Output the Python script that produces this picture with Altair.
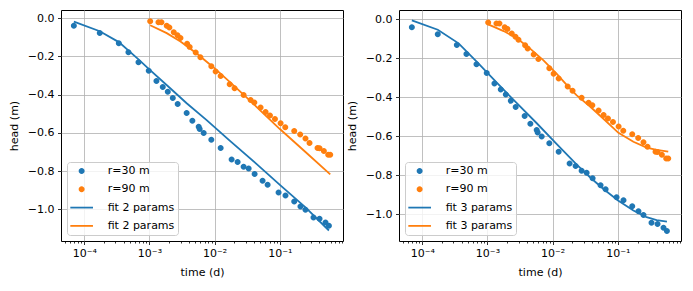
import altair as alt
import pandas as pd

BLUE = "#1f77b4"
ORANGE = "#ff7f0e"
FONT = "DejaVu Sans"

# observed drawdown, r = 30 m
t_r30 = [6.93e-5, 1.73e-4, 3.39e-4, 4.76e-4, 6.79e-4, 9.75e-4, 1.28e-3, 1.60e-3, 1.91e-3,
         2.28e-3, 2.71e-3, 3.72e-3, 4.55e-3, 5.69e-3, 5.89e-3, 6.79e-3, 8.89e-3, 1.236e-2,
         1.82e-2, 2.25e-2, 2.78e-2, 3.32e-2, 4.10e-2, 5.43e-2, 6.49e-2, 9.55e-2, 0.122,
         0.166, 0.207, 0.247, 0.328, 0.406, 0.501, 0.565]
h_r30 = [-0.040, -0.077, -0.131, -0.178, -0.230, -0.275, -0.329, -0.360, -0.385, -0.418,
         -0.449, -0.496, -0.536, -0.568, -0.580, -0.601, -0.636, -0.679, -0.740, -0.752,
         -0.777, -0.787, -0.815, -0.851, -0.872, -0.912, -0.928, -0.959, -0.985, -1.003,
         -1.043, -1.050, -1.069, -1.086]

# observed drawdown, r = 90 m
t_r90 = [1.026e-3, 1.374e-3, 1.528e-3, 1.84e-3, 2.02e-3, 2.36e-3, 2.69e-3, 2.99e-3, 3.78e-3,
         4.14e-3, 5.12e-3, 6.04e-3, 8.89e-3, 1.035e-2, 1.236e-2, 1.70e-2, 2.02e-2, 2.78e-2,
         3.56e-2, 4.06e-2, 5.06e-2, 6.04e-2, 7.05e-2, 8.41e-2, 0.1026, 0.121, 0.166, 0.205,
         0.247, 0.285, 0.378, 0.406, 0.473, 0.551, 0.592]
h_r90 = [-0.016, -0.021, -0.021, -0.040, -0.049, -0.073, -0.089, -0.104, -0.133, -0.150,
         -0.180, -0.204, -0.251, -0.279, -0.303, -0.345, -0.366, -0.402, -0.428, -0.441,
         -0.467, -0.491, -0.509, -0.527, -0.550, -0.571, -0.590, -0.609, -0.630, -0.653,
         -0.679, -0.681, -0.695, -0.714, -0.714]

# fit with 2 parameters
fit2_t30 = [6.93e-5, 1.73e-4, 3.39e-4, 6.79e-4, 9.75e-4, 2.10e-3, 3.72e-3, 7.46e-3, 1.70e-2,
            4.37e-2, 0.1, 0.247, 0.565]
fit2_h30 = [-0.018, -0.068, -0.125, -0.215, -0.265, -0.368, -0.445, -0.532, -0.641,
            -0.762, -0.872, -0.990, -1.111]
fit2_t90 = [1.026e-3, 1.84e-3, 2.99e-3, 5.24e-3, 9.44e-3, 1.70e-2, 3.05e-2, 0.1, 0.247, 0.592]
fit2_h90 = [-0.037, -0.078, -0.122, -0.183, -0.255, -0.333, -0.413, -0.580, -0.700, -0.817]

# fit with 3 parameters
fit3_t30 = [6.93e-5, 1.73e-4, 3.61e-4, 6.95e-4, 1.39e-3, 2.82e-3, 5.70e-3, 1.156e-2, 2.34e-2,
            3.74e-2, 6.00e-2, 0.102, 0.173, 0.276, 0.393, 0.565]
fit3_h30 = [-0.005, -0.053, -0.123, -0.220, -0.325, -0.430, -0.533, -0.640, -0.745,
            -0.810, -0.870, -0.930, -0.981, -1.015, -1.030, -1.038]
fit3_t90 = [1.026e-3, 1.77e-3, 2.82e-3, 4.51e-3, 7.23e-3, 1.156e-2, 1.845e-2, 2.34e-2,
            3.74e-2, 6.00e-2, 0.102, 0.173, 0.276, 0.393, 0.592]
fit3_h90 = [-0.026, -0.060, -0.097, -0.150, -0.210, -0.280, -0.355, -0.390, -0.447,
            -0.510, -0.582, -0.628, -0.658, -0.670, -0.679]

obs_labels = ["r=30 m", "r=90 m"]

x_major = [1e-4, 1e-3, 1e-2, 1e-1]
x_major_labels = ["10⁻⁴", "10⁻³", "10⁻²", "10⁻¹"]
x_minor = [5e-5, 6e-5, 7e-5, 8e-5, 9e-5,
           2e-4, 3e-4, 4e-4, 5e-4, 6e-4, 7e-4, 8e-4, 9e-4,
           2e-3, 3e-3, 4e-3, 5e-3, 6e-3, 7e-3, 8e-3, 9e-3,
           2e-2, 3e-2, 4e-2, 5e-2, 6e-2, 7e-2, 8e-2, 9e-2,
           0.2, 0.3, 0.4, 0.5, 0.6, 0.7, 0.8, 0.9]
y_ticks = [0.0, -0.2, -0.4, -0.6, -0.8, -1.0]

x_domain = [4.40e-5, 0.929]
y_domain_left = [-1.166, 0.043]
y_domain_right = [-1.137, 0.048]

CIRCLE = "M-0.545,0A0.545,0.545 0 1,0 0.545,0A0.545,0.545 0 1,0 -0.545,0Z"
LINE = "M-2.06,-0.16L2.06,-0.16L2.06,0.16L-2.06,0.16Z"

is_major = "abs(log(datum.value)/LN10 - round(log(datum.value)/LN10)) < 0.001"
label_expr = " : ".join(
    f"abs(datum.value - {v}) < {v * 1e-3} ? '{lab}'" for v, lab in zip(x_major, x_major_labels)
) + " : ''"


def panel(fit_label, ft30, fh30, ft90, fh90, ydom):
    labels = obs_labels + [fit_label, fit_label + " "]
    obs = pd.DataFrame({
        "t": t_r30 + t_r90,
        "h": h_r30 + h_r90,
        "series": [labels[0]] * len(t_r30) + [labels[1]] * len(t_r90),
    })
    fit = pd.DataFrame({
        "t": ft30 + ft90,
        "h": fh30 + fh90,
        "series": [labels[2]] * len(ft30) + [labels[3]] * len(ft90),
    })
    x = alt.X("t:Q",
              scale=alt.Scale(type="log", domain=x_domain, nice=False),
              axis=alt.Axis(values=x_major + x_minor, labelExpr=label_expr,
                            title="time (d)", labelOverlap=False, labelFlush=False,
                            labelPadding=3, titlePadding=8,
                            tickSize={"condition": {"test": is_major, "value": 3.5}, "value": 2},
                            gridOpacity={"condition": {"test": is_major, "value": 1}, "value": 0}))
    y = alt.Y("h:Q",
              scale=alt.Scale(domain=ydom, nice=False, zero=False),
              axis=alt.Axis(values=y_ticks, format=".1f", title="head (m)",
                            tickSize=3.5, labelPadding=3.5, titlePadding=8))
    legend = alt.Legend(title=None, orient="bottom-left", offset=6, padding=3.5,
                        fillColor="rgba(255,255,255,0.8)", strokeColor="#cccccc",
                        cornerRadius=3, symbolSize=121, symbolStrokeWidth=0,
                        symbolOffset=5.65, labelOffset=20.5, rowPadding=6.3,
                        symbolOpacity=1, labelFont=FONT, labelFontSize=11,
                        labelColor="black", labelLimit=0)
    color_scale = alt.Scale(domain=labels, range=[BLUE, ORANGE, BLUE, ORANGE])
    shape_scale = alt.Scale(domain=labels, range=[CIRCLE, CIRCLE, LINE, LINE])
    pts = alt.Chart(obs).mark_point(filled=True, opacity=1, size=121).encode(
        x=x, y=y,
        color=alt.Color("series:N", scale=color_scale, legend=legend),
        shape=alt.Shape("series:N", scale=shape_scale, legend=legend),
    )
    lines = alt.Chart(fit).mark_line(strokeWidth=1.8).encode(
        x=x, y=y,
        color=alt.Color("series:N", scale=color_scale, legend=None),
        detail="series:N",
    )
    return alt.layer(pts, lines).properties(width=282, height=231)


left = panel("fit 2 params", fit2_t30, fit2_h30, fit2_t90, fit2_h90, y_domain_left)
right = panel("fit 3 params", fit3_t30, fit3_h30, fit3_t90, fit3_h90, y_domain_right)

chart = alt.hconcat(left, right, spacing=1).resolve_scale(
    x="independent", y="independent", color="independent", shape="independent"
).resolve_legend(color="independent", shape="independent").properties(
    padding={"left": 7, "top": 9, "right": 5, "bottom": 5}
).configure(font=FONT).configure_axis(
    labelFont=FONT, titleFont=FONT, labelFontSize=11, titleFontSize=11,
    titleFontWeight="normal", labelColor="black", titleColor="black",
    tickColor="black", tickWidth=0.8, domain=False,
    gridColor="#b0b0b0", gridWidth=0.8,
).configure_view(stroke="black", strokeWidth=1)

chart.save("out.html", embed_options={"renderer": "svg", "actions": False})
